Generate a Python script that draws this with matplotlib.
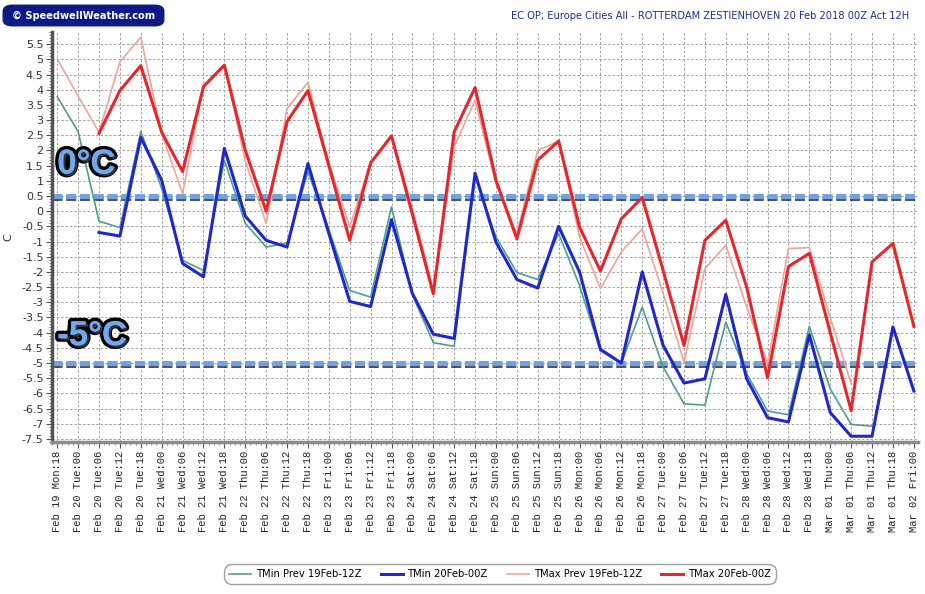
import numpy as np
import matplotlib
matplotlib.use("Agg")
import matplotlib.pyplot as plt
import matplotlib.patheffects as pe
from matplotlib.patches import FancyBboxPatch
from matplotlib.ticker import MultipleLocator, FixedLocator

nan = np.nan

# x-axis labels (6-hourly)
dates = ["Feb 19"] + ["Feb 20"] * 4 + ["Feb 21"] * 4 + ["Feb 22"] * 4 + ["Feb 23"] * 4 + \
        ["Feb 24"] * 4 + ["Feb 25"] * 4 + ["Feb 26"] * 4 + ["Feb 27"] * 4 + ["Feb 28"] * 4 + \
        ["Mar 01"] * 4 + ["Mar 02"]
days = ["Mon"] + ["Tue"] * 4 + ["Wed"] * 4 + ["Thu"] * 4 + ["Fri"] * 4 + ["Sat"] * 4 + \
       ["Sun"] * 4 + ["Mon"] * 4 + ["Tue"] * 4 + ["Wed"] * 4 + ["Thu"] * 4 + ["Fri"]
hours = ["18"] + ["00", "06", "12", "18"] * 10 + ["00"]
tick_labels = [f"{d} {w}:{h}" for d, w, h in zip(dates, days, hours)]

tmin_prev = [3.77, 2.62, -0.33, -0.54, 2.62, 0.75, -1.62, -1.95, 1.68, -0.40,
             -1.18, -1.05, 1.30, -0.60, -2.61, -2.83, 0.14, -2.75, -4.33, -4.45,
             1.15, -0.85, -2.02, -2.25, -0.74, -2.45, -4.60, -5.00, -3.16, -5.13,
             -6.34, -6.39, -3.65, -5.35, -6.58, -6.70, -3.79, -5.85, -7.02, -7.08,
             nan, nan]
tmin_curr = [nan, nan, -0.70, -0.82, 2.43, 1.02, -1.72, -2.16, 2.07, -0.16,
             -0.96, -1.18, 1.57, -0.73, -2.97, -3.14, -0.28, -2.71, -4.05, -4.19,
             1.25, -1.02, -2.25, -2.53, -0.50, -2.00, -4.55, -5.00, -2.00, -4.42,
             -5.66, -5.52, -2.74, -5.52, -6.80, -6.94, -4.07, -6.63, -7.41, -7.41,
             -3.81, -5.92]
tmax_prev = [5.01, 3.79, 2.60, 4.92, 5.73, 2.55, 0.58, 4.15, 4.81, 1.65,
             -0.40, 3.38, 4.24, 1.60, -0.52, 1.60, 2.45, 0.10, -2.60, 2.12,
             3.65, 0.90, -0.74, 2.00, 2.31, -0.85, -2.55, -1.34, -0.58, -2.70,
             -4.97, -1.89, -1.12, -3.15, -5.02, -1.23, -1.20, -3.50, -5.68,
             nan, nan, nan]
tmax_curr = [nan, nan, 2.56, 3.97, 4.79, 2.60, 1.30, 4.10, 4.81, 2.01,
             0.00, 2.95, 3.97, 1.50, -0.96, 1.59, 2.48, -0.10, -2.72, 2.61,
             4.07, 1.02, -0.91, 1.68, 2.31, -0.52, -1.97, -0.25, 0.45, -1.95,
             -4.42, -0.96, -0.30, -2.50, -5.48, -1.82, -1.39, -4.00, -6.57, -1.67,
             -1.06, -3.79]

series_names = ["TMin Prev 19Feb-12Z", "TMin 20Feb-00Z", "TMax Prev 19Feb-12Z", "TMax 20Feb-00Z"]
ref_levels = [0.5, -5.0]
ref_texts = ["0°C", "-5°C"]
ref_text_y = [1.55, -4.1]

W, H = 925, 594
fig = plt.figure(figsize=(W / 100, H / 100), dpi=100)
ax = fig.add_axes([52 / W, 1 - 442 / H, (918 - 52) / W, (442 - 32) / H])

x = np.arange(len(tick_labels))

# grid
ax.set_axisbelow(True)
ax.xaxis.set_major_locator(FixedLocator(x))
ax.yaxis.set_major_locator(MultipleLocator(0.5))
ax.grid(True, which="major", color="#a0a0a0", linestyle=(0, (2.5, 2)), linewidth=0.7)

# reference dashed lines with shadow
for lvl in ref_levels:
    ax.axhline(lvl, color="#6fa3e8", linewidth=3.6, linestyle=(0, (2.0, 0.75)),
               path_effects=[pe.SimpleLineShadow(offset=(0, -1.2), shadow_color="#2a2a2a", alpha=0.8),
                             pe.Normal()], zorder=2)

ax.plot(x, tmin_prev, color="#4d9e8e", linewidth=1.2, label=series_names[0], zorder=3)
ax.plot(x, tmax_prev, color="#f2a398", linewidth=1.2, label=series_names[2], zorder=3)
ax.plot(x, tmin_curr, color="#1f28cc", linewidth=2.2, label=series_names[1], zorder=4)
ax.plot(x, tmax_curr, color="#e8262a", linewidth=2.2, label=series_names[3], zorder=4)

ax.set_xlim(-0.25, 41.2)
ax.set_ylim(-7.6, 5.9)

ytick_vals = np.arange(-7.5, 5.51, 0.5)
ax.set_yticks(ytick_vals)
ax.set_yticklabels([("%g" % v) for v in ytick_vals], fontsize=8, color="#333333")
ax.yaxis.set_minor_locator(MultipleLocator(0.1))
ax.set_xticks(x)
ax.set_xticklabels(tick_labels, rotation=90, fontsize=7.6, family="Liberation Mono", color="#222222")
ax.xaxis.set_minor_locator(MultipleLocator(0.25))
ax.tick_params(axis="both", which="major", length=4, width=0.8, color="#555555", pad=2)
ax.tick_params(axis="both", which="minor", length=2, width=0.6, color="#777777")

for s in ["top", "right"]:
    ax.spines[s].set_visible(False)
ax.spines["left"].set_linewidth(2.5)
ax.spines["left"].set_color("#555555")
ax.spines["bottom"].set_linewidth(2.5)
ax.spines["bottom"].set_color("#8a8a8a")

ax.set_ylabel("C", fontsize=8, color="#333333", labelpad=6)

# big level labels
for lvl_y, txt in zip(ref_text_y, ref_texts):
    ax.text(0.0, lvl_y, txt, fontsize=25, fontweight="bold", family="Liberation Sans",
            color="#6fa8ef", ha="left", va="center", zorder=6,
            path_effects=[pe.withStroke(linewidth=5, foreground="black"),
                          pe.withSimplePatchShadow(offset=(1.5, -1.5), shadow_rgbFace="#555555", alpha=0.6)])

# title
fig.text(909 / W, 1 - 16 / H, "EC OP; Europe Cities All - ROTTERDAM ZESTIENHOVEN 20 Feb 2018 00Z Act 12H",
         ha="right", va="center", fontsize=7.15, color="#1f2f8f", family="DejaVu Sans")

# logo
logo = FancyBboxPatch((6 / W, 1 - 24 / H), 155 / W, 17 / H,
                      boxstyle="round,pad=0.003,rounding_size=0.01",
                      transform=fig.transFigure, facecolor="#0d1a86", edgecolor="#0d1a86")
fig.patches.append(logo)
fig.text(84 / W, 1 - 15.5 / H, "© SpeedwellWeather.com", ha="center", va="center",
         fontsize=7.1, fontweight="bold", color="white", family="DejaVu Sans")

# legend
handles, labels = ax.get_legend_handles_labels()
order = [labels.index(n) for n in series_names]
leg = fig.legend([handles[i] for i in order], [labels[i] for i in order],
                 loc="center", bbox_to_anchor=(500 / W, 1 - 574 / H), ncol=4,
                 fontsize=7.2, frameon=True, fancybox=True, handlelength=2.2,
                 columnspacing=1.9, handletextpad=0.5, borderpad=0.3)
leg.get_frame().set_edgecolor("#888888")
leg.get_frame().set_linewidth(1.0)
leg.get_frame().set_boxstyle("round,pad=0.2,rounding_size=0.8")

fig.savefig("out.png", dpi=100, facecolor="white")
